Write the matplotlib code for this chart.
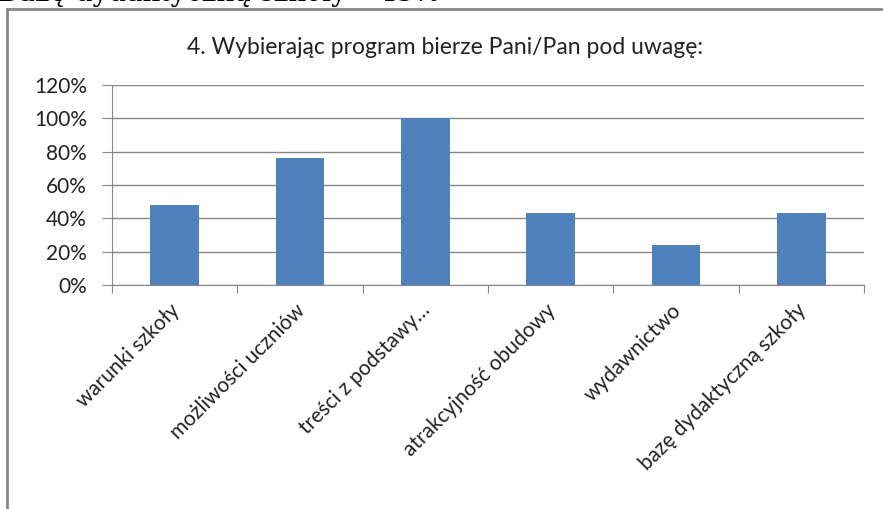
import matplotlib
matplotlib.use('Agg')
import matplotlib.pyplot as plt
import matplotlib.transforms as mtransforms
from matplotlib.patches import Rectangle
from matplotlib.ticker import FuncFormatter

# Chart data
categories = ['warunki szkoły', 'możliwości uczniów', 'treści z podstawy…',
              'atrakcyjność obudowy', 'wydawnictwo', 'bazę dydaktyczną szkoły']
values = [48, 76, 100, 43, 24, 43]
y_ticks = [0, 20, 40, 60, 80, 100, 120]

title = '4. Wybierając program bierze Pani/Pan pod uwagę:'
top_text = 'Bazę dydaktyczną szkoły – 43%'

plt.rcParams['font.family'] = ['Lato', 'DejaVu Sans']

fig = plt.figure(figsize=(8.83, 5.09), dpi=100)
fig.patch.set_facecolor('white')

# chart frame (cut off at right and bottom like the screenshot)
frame = Rectangle((7 / 883, -0.1), 1.2, 1 - 9 / 509 + 0.1, transform=fig.transFigure,
                  fill=False, edgecolor='#868686', linewidth=2)
fig.patches.append(frame)

# the line of document text above the chart, cut off at the top
fig.text(-2 / 883, 1 - 1 / 509, top_text, family=['DejaVu Serif'], fontsize=20,
         ha='left', va='baseline', color='black')

ax = fig.add_axes([112 / 883, 1 - 285 / 509, (864 - 112) / 883, (285 - 85) / 509])
x = range(len(categories))
ax.bar(x, values, width=0.39, color='#4F81BD', zorder=3)

ax.set_xlim(-0.5, len(categories) - 0.5)
ax.set_ylim(0, 120)
ax.set_yticks(y_ticks)
ax.yaxis.set_major_formatter(FuncFormatter(lambda v, p: f'{int(v)}%'))
ax.grid(axis='y', color='#878787', linewidth=1, zorder=0)

for s in ['top', 'right']:
    ax.spines[s].set_visible(False)
ax.spines['left'].set_color('#878787')
ax.spines['bottom'].set_color('#878787')

ax.set_xticks([i - 0.5 for i in range(len(categories) + 1)], minor=False)
ax.set_xticklabels([])
ax.set_xticks(list(x), minor=True)
ax.set_xticklabels(categories, minor=True, rotation=45, ha='right', va='center',
                   rotation_mode='anchor', fontsize=15, color='#222222')
ax.tick_params(axis='x', which='minor', length=0, pad=16)
ax.tick_params(axis='x', which='major', length=6, color='#878787', direction='out')
ax.tick_params(axis='y', length=7, color='#878787', labelsize=15, labelcolor='#222222', pad=11)

offset = mtransforms.ScaledTranslation(2 / 100, 0, fig.dpi_scale_trans)
for lbl in ax.get_xticklabels(minor=True):
    lbl.set_transform(lbl.get_transform() + offset)

fig.text(445 / 883, 1 - 47 / 509, title, fontsize=16.5, ha='center', va='center',
         color='#222222')

fig.savefig('out.png', dpi=100)
